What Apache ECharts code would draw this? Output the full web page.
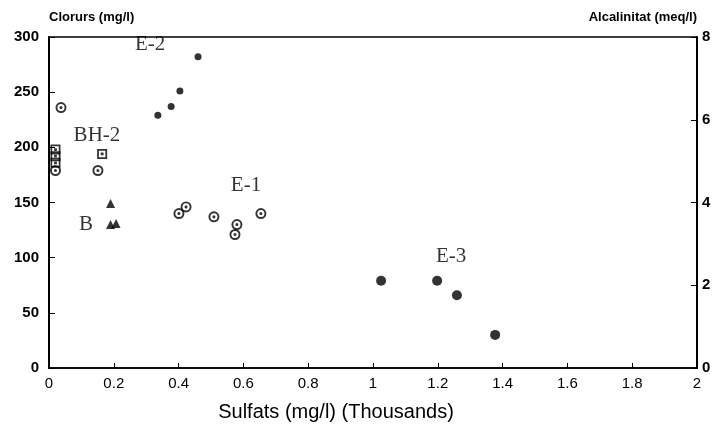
<!DOCTYPE html>
<html>
<head>
<meta charset="utf-8">
<script src="https://cdn.jsdelivr.net/npm/echarts@6/dist/echarts.min.js"></script>
<style>
  html, body { margin: 0; padding: 0; background: #fff; }
  #main { width: 714px; height: 433px; }
</style>
</head>
<body>
<div id="main"></div>
<script>
// dades: sulfats (milers mg/l), clorurs (mg/l)
var e2Points = [[0.336, 229], [0.377, 237], [0.404, 251], [0.46, 282]];
var e3Points = [[1.025, 79], [1.198, 79], [1.259, 66], [1.377, 30]];
var e1Points = [[0.401, 140], [0.423, 146], [0.509, 137], [0.58, 130], [0.574, 121], [0.654, 140]];
var bh2Circles = [[0.037, 236], [0.151, 179], [0.02, 179]];
var bh2Squares = [[0.164, 194], [0.02, 198], [0.02, 192], [0.02, 186]];
var bPoints = [[0.19, 149], [0.19, 130], [0.207, 131]];

// etiquetes dels grups
var groupLabels = [
  { name: 'E-2', value: [0.312, 293] },
  { name: 'BH-2', value: [0.148, 211] },
  { name: 'B', value: [0.114, 130] },
  { name: 'E-1', value: [0.608, 165] },
  { name: 'E-3', value: [1.241, 101] }
];

var xTicks = { min: 0, max: 2, interval: 0.2 };
var leftTicks = { min: 0, max: 300, interval: 50 };
var rightTicks = { min: 0, max: 8, interval: 2 };

// cercle amb punt i quadrat amb punt (forat per sentit de gir)
var circleDot = 'path://M0,-10A10,10 0 1,1 0,10A10,10 0 1,1 0,-10Z' +
  'M0,-6.5A6.5,6.5 0 1,0 0,6.5A6.5,6.5 0 1,0 0,-6.5Z' +
  'M0,-2.8A2.8,2.8 0 1,1 0,2.8A2.8,2.8 0 1,1 0,-2.8Z';
var squareDot = 'path://M-10,-10H10V10H-10Z' +
  'M-6.5,-6.5V6.5H6.5V-6.5Z' +
  'M-2.8,-2.8H2.8V2.8H-2.8Z';

var chart = echarts.init(document.getElementById('main'));

var axisLabelY = { color: '#000', fontSize: 15, fontWeight: 'bold', fontFamily: 'Liberation Sans' };

var option = {
  animation: false,
  backgroundColor: '#fff',
  grid: {
    left: 49, right: 17, top: 37, bottom: 65,
    show: true, borderColor: '#000', borderWidth: 1.5
  },
  xAxis: {
    type: 'value',
    min: xTicks.min, max: xTicks.max, interval: xTicks.interval,
    name: 'Sulfats (mg/l) (Thousands)',
    nameLocation: 'middle',
    nameGap: 34,
    nameTextStyle: { color: '#000', fontSize: 20, fontFamily: 'Liberation Sans', padding: [0, 74, 0, 0] },
    axisLine: { show: true, lineStyle: { color: '#000', width: 1.5 } },
    axisTick: { show: true, inside: true, length: 5, lineStyle: { color: '#000' } },
    axisLabel: {
      color: '#000', fontSize: 15, fontFamily: 'Liberation Sans', margin: 8,
      formatter: function (v) { return +v.toFixed(1) + ''; }
    },
    splitLine: { show: false }
  },
  yAxis: [
    {
      type: 'value',
      min: leftTicks.min, max: leftTicks.max, interval: leftTicks.interval,
      name: 'Clorurs (mg/l)',
      nameGap: 20,
      nameTextStyle: { color: '#000', fontSize: 13, fontWeight: 'bold', fontFamily: 'Liberation Sans', align: 'left', verticalAlign: 'middle' },
      axisLine: { show: true, lineStyle: { color: '#000', width: 2 } },
      axisTick: { show: true, inside: true, length: 6, lineStyle: { color: '#000' } },
      axisLabel: Object.assign({ margin: 10 }, axisLabelY),
      splitLine: { show: false }
    },
    {
      type: 'value',
      position: 'right',
      min: rightTicks.min, max: rightTicks.max, interval: rightTicks.interval,
      name: 'Alcalinitat (meq/l)',
      nameGap: 20,
      nameTextStyle: { color: '#000', fontSize: 13, fontWeight: 'bold', fontFamily: 'Liberation Sans', align: 'right', verticalAlign: 'middle' },
      axisLine: { show: true, lineStyle: { color: '#000', width: 2 } },
      axisTick: { show: true, inside: true, length: 6, lineStyle: { color: '#000' } },
      axisLabel: Object.assign({ margin: 5 }, axisLabelY),
      splitLine: { show: false }
    }
  ],
  series: [
    { name: 'E-2', type: 'scatter', data: e2Points, symbol: 'circle', symbolSize: 7, itemStyle: { color: '#000' } },
    { name: 'E-3', type: 'scatter', data: e3Points, symbol: 'circle', symbolSize: 10, itemStyle: { color: '#000' } },
    { name: 'E-1', type: 'scatter', data: e1Points, symbol: circleDot, symbolSize: 11, itemStyle: { color: '#000' } },
    { name: 'BH-2 c', type: 'scatter', data: bh2Circles, symbol: circleDot, symbolSize: 11, itemStyle: { color: '#000' } },
    { name: 'BH-2 q', type: 'scatter', data: bh2Squares, symbol: squareDot, symbolSize: 10, itemStyle: { color: '#000' } },
    { name: 'B', type: 'scatter', data: bPoints, symbol: 'triangle', symbolSize: 9, itemStyle: { color: '#000' } },
    {
      name: 'labels', type: 'scatter', data: groupLabels, symbolSize: 0, silent: true,
      label: {
        show: true, position: 'inside', formatter: '{b}',
        color: '#000', fontSize: 21, fontFamily: 'Liberation Serif'
      }
    }
  ]
};

chart.setOption(option);
</script>
</body>
</html>
